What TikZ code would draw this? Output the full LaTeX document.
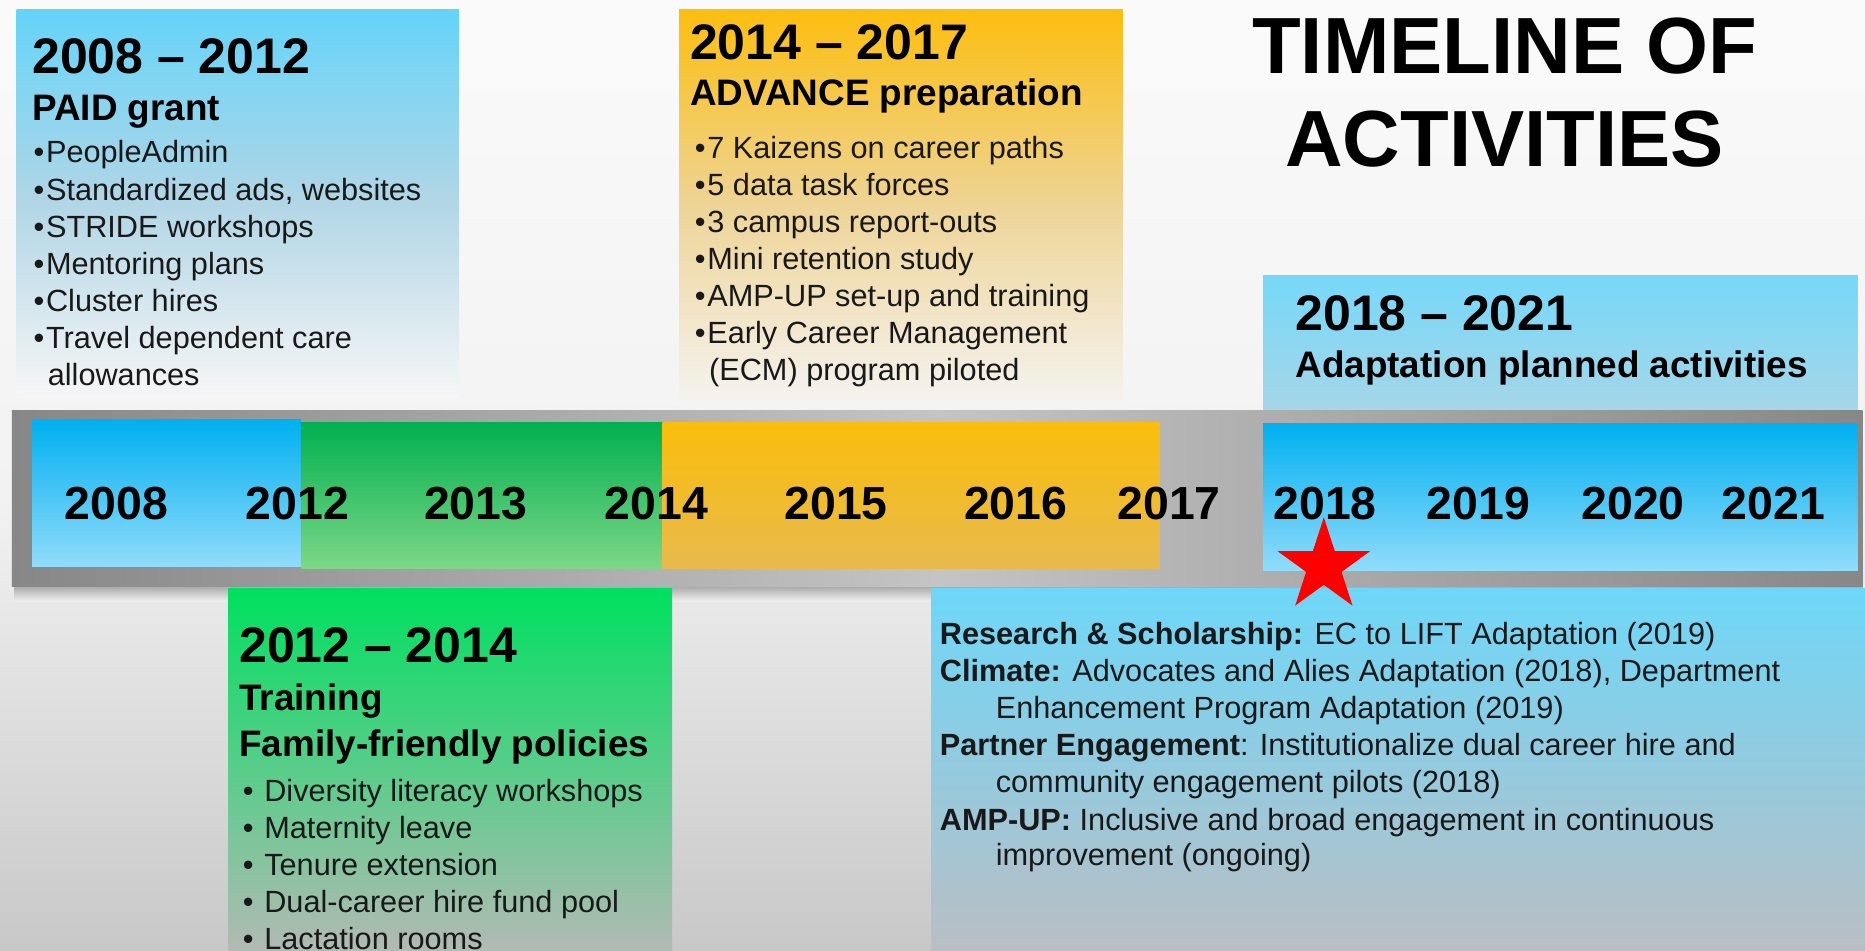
\documentclass[tikz,border=0pt]{standalone}
\usepackage{fontspec}
\setmainfont{Liberation Sans}
\usetikzlibrary{shapes.geometric}

\definecolor{bgtop}{RGB}{250,250,250}
\definecolor{bgmid}{RGB}{242,242,242}
\definecolor{bgbot}{RGB}{200,200,200}
\definecolor{paidtop}{RGB}{100,212,248}
\definecolor{paidmid}{RGB}{178,214,230}
\definecolor{paidbot}{RGB}{246,246,246}
\definecolor{advtop}{RGB}{252,190,15}
\definecolor{advmid}{RGB}{238,212,150}
\definecolor{advbot}{RGB}{245,243,240}
\definecolor{adapttop}{RGB}{118,216,248}
\definecolor{adaptbot}{RGB}{168,214,232}
\definecolor{bandend}{RGB}{135,135,135}
\definecolor{bandmid}{RGB}{196,196,196}
\definecolor{segblue}{RGB}{0,176,240}
\definecolor{segbluelt}{RGB}{145,220,250}
\definecolor{seggreen}{RGB}{0,176,80}
\definecolor{seggreenlt}{RGB}{125,215,135}
\definecolor{segorange}{RGB}{250,190,10}
\definecolor{segorangelt}{RGB}{232,186,78}
\definecolor{famtop}{RGB}{0,224,96}
\definecolor{fambot}{RGB}{178,186,180}
\definecolor{plantop}{RGB}{110,215,248}
\definecolor{planbot}{RGB}{186,190,196}
\definecolor{starred}{RGB}{255,0,0}

\tikzstyle{head}=[anchor=base west, inner sep=0pt, font=\bfseries\fontsize{42}{42}\selectfont]
\tikzstyle{subhead}=[anchor=base west, inner sep=0pt, font=\bfseries\fontsize{31}{31}\selectfont]
\tikzstyle{item}=[anchor=base west, inner sep=0pt, text=black!90, font=\fontsize{25.8}{31}\selectfont]
\tikzstyle{year}=[anchor=base, inner sep=0pt, font=\bfseries\fontsize{39}{39}\selectfont]
\tikzstyle{bigtitle}=[anchor=base, inner sep=0pt, font=\bfseries\fontsize{67}{67}\selectfont]

\begin{document}
\begin{tikzpicture}[x=1pt, y=-1pt]
	\useasboundingbox (0,0) rectangle (1568,799);
	\shade[top color=bgtop, bottom color=bgmid] (0,0) rectangle (1568,420);
	\shade[top color=bgmid, bottom color=bgbot] (0,420) rectangle (1568,799);

	% period panels above the bar
	\shade[top color=paidtop, bottom color=paidbot, middle color=paidmid] (14,8) rectangle (386,334);
	\shade[top color=advtop, bottom color=advbot, middle color=advmid] (571,8) rectangle (944,338);
	\shade[top color=adapttop, bottom color=adaptbot] (1062,232) rectangle (1562,350);

	% the bar, its shadow and its coloured stretches
	\shade[top color=black!40, bottom color=bgmid] (12,490) rectangle (1566,506);
	\shade[left color=bandend, right color=bandend, middle color=bandmid] (10,345) rectangle (1566,493);
	\shade[top color=segblue, bottom color=segbluelt] (27,353) rectangle (253,476);
	\shade[top color=seggreen, bottom color=seggreenlt] (253,355) rectangle (557,478);
	\shade[top color=segorange, bottom color=segorangelt] (557,355) rectangle (975,478);
	\shade[top color=segblue, bottom color=segbluelt] (1062,356) rectangle (1562,480);

	% panels below the bar
	\shade[top color=famtop, bottom color=fambot] (192,495) rectangle (565,799);
	\shade[top color=plantop, bottom color=planbot] (783,495) rectangle (1568,799);

	\node[bigtitle] (title1) at (1265,62) {TIMELINE OF};
	\node[bigtitle] (title2) at (1265,140) {ACTIVITIES};

	\foreach \x/\yr in {98/2008, 250/2012, 400/2013, 552/2014, 703/2015, 854/2016, 983/2017, 1114/2018, 1243/2019, 1373/2020, 1491/2021}
		\node[year] (y\yr) at (\x,437) {\yr};

	% 2008 - 2012
	\node[head] (paidh) at (27,62) {2008 -- 2012};
	\node[subhead] (paids) at (27,101) {PAID grant};
	\foreach \txt [count=\i] in {PeopleAdmin, {Standardized ads, websites}, STRIDE workshops, Mentoring plans, Cluster hires, Travel dependent care}
		\node[item] (paid\i) at (28,{137+31.2*(\i-1)}) {\textbullet\kern1.5pt\txt};
	\node[item] (paid7) at (40,324) {allowances};

	% 2014 - 2017
	\node[head] (advh) at (580,50) {2014 -- 2017};
	\node[subhead] (advs) at (580,89) {ADVANCE preparation};
	\foreach \txt [count=\i] in {7 Kaizens on career paths, 5 data task forces, 3 campus report-outs, Mini retention study, AMP-UP set-up and training, Early Career Management}
		\node[item] (adv\i) at (584,{133+31.2*(\i-1)}) {\textbullet\kern1.5pt\txt};
	\node[item] (adv7) at (596,320) {(ECM) program piloted};

	% 2018 - 2021
	\node[head] (adapth) at (1089,278) {2018 -- 2021};
	\node[subhead] (adapts) at (1089,317) {Adaptation planned activities};

	% 2012 - 2014
	\node[head] (famh) at (201,557) {2012 -- 2014};
	\node[subhead] (fams1) at (201,597) {Training};
	\node[subhead] (fams2) at (201,636) {Family-friendly policies};
	\foreach \txt [count=\i] in {Diversity literacy workshops, Maternity leave, Tenure extension, Dual-career hire fund pool, Lactation rooms}
		\node[item] (fam\i) at (204,{674+31*(\i-1)}) {\textbullet\hspace{9pt}\txt};

	% planned activities
	\foreach \x/\y/\txt [count=\i] in {790/542/{\textbf{Research \& Scholarship:} EC to LIFT Adaptation (2019)},
			790/573/{\textbf{Climate:} Advocates and Alies Adaptation (2018), Department},
			837/604/{Enhancement Program Adaptation (2019)},
			790/635/{\textbf{Partner Engagement}: Institutionalize dual career hire and},
			837/666/{community engagement pilots (2018)},
			790/698/{\textbf{AMP-UP:} Inclusive and broad engagement in continuous},
			837/728/{improvement (ongoing)}}
		\node[item] (plan\i) at (\x,\y) {\txt};

	\node[star, star points=5, star point ratio=2.618, minimum size=82pt, inner sep=0pt, fill=starred] (star) at (1113,476) {};
\end{tikzpicture}
\end{document}
